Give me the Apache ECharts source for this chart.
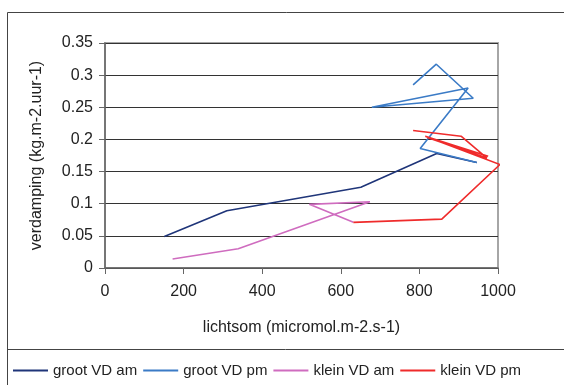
<!DOCTYPE html>
<html><head><meta charset="utf-8">
<script src="https://cdn.jsdelivr.net/npm/echarts@6/dist/echarts.min.js"></script>
<style>html,body{margin:0;padding:0;background:#fff}#c{width:564px;height:385px}</style>
</head><body><div id="c"></div>
<script>
const seriesNames = ['groot VD am', 'groot VD pm', 'klein VD am', 'klein VD pm'];
const grootAmX = [151, 310, 651, 844, 946];
const grootAmY = [0.049, 0.089, 0.1255, 0.178, 0.164];
const grootPmX = [784, 843, 937, 679, 924, 802, 946];
const grootPmY = [0.285, 0.317, 0.264, 0.250, 0.280, 0.186, 0.164];
const kleinAmX = [172, 339, 674, 520, 632];
const kleinAmY = [0.014, 0.030, 0.103, 0.099, 0.071];
const kleinPmX = [632, 857, 1005, 815, 975, 820, 972, 906, 784];
const kleinPmY = [0.071, 0.076, 0.161, 0.205, 0.174, 0.203, 0.171, 0.205, 0.214];
const xTicks = [0, 200, 400, 600, 800, 1000];
const yTicks = [0, 0.05, 0.1, 0.15, 0.2, 0.25, 0.3, 0.35];
const colors = ['#1f3579', '#3b7bc6', '#cf6cbf', '#ef2b2b'];

function pairs(xs, ys) { return xs.map((x, i) => [x, ys[i]]); }
const allData = [pairs(grootAmX, grootAmY), pairs(grootPmX, grootPmY), pairs(kleinAmX, kleinAmY), pairs(kleinPmX, kleinPmY)];

const font = 'Arial, "Liberation Sans", sans-serif';
const chart = echarts.init(document.getElementById('c'), null, {renderer: 'canvas'});
chart.setOption({
  animation: false,
  backgroundColor: '#fff',
  grid: {left: 105, right: 66, top: 43, bottom: 117, show: true, borderColor: '#a6a6a6', borderWidth: 2, backgroundColor: 'transparent'},
  xAxis: {
    type: 'value', min: xTicks[0], max: xTicks[xTicks.length - 1], interval: 200,
    name: 'lichtsom (micromol.m-2.s-1)', nameLocation: 'middle', nameGap: 52,
    nameTextStyle: {fontFamily: font, fontSize: 16, color: '#222'},
    axisLine: {lineStyle: {color: '#666', width: 1.5}},
    axisTick: {show: true, length: 6, inside: false, lineStyle: {color: '#666'}},
    axisLabel: {fontFamily: font, fontSize: 16, color: '#222', margin: 16, formatter: v => String(v)},
    splitLine: {show: false}
  },
  yAxis: {
    type: 'value', min: yTicks[0], max: yTicks[yTicks.length - 1], interval: 0.05,
    name: 'verdamping (kg.m-2.uur-1)', nameLocation: 'middle', nameGap: 60, nameRotate: 90,
    nameTextStyle: {fontFamily: font, fontSize: 16, color: '#222'},
    axisLine: {lineStyle: {color: '#666', width: 1.5}},
    axisTick: {show: true, length: 6, inside: false, lineStyle: {color: '#666'}},
    axisLabel: {fontFamily: font, fontSize: 16, color: '#222', margin: 12, formatter: v => String(Math.round(v * 100) / 100)},
    splitLine: {show: true, lineStyle: {color: '#333', width: 1}}
  },
  legend: {
    data: seriesNames, left: 8, top: 358, icon: 'rect', itemWidth: 35, itemHeight: 2, itemGap: 6,
    textStyle: {fontFamily: font, fontSize: 15, color: '#222'}
  },
  graphic: [
    {type: 'rect', shape: {x: 7.5, y: 12.5, width: 600, height: 400}, style: {fill: 'none', stroke: '#444', lineWidth: 1}, silent: true},
    {type: 'line', shape: {x1: 7, y1: 349.5, x2: 564, y2: 349.5}, style: {stroke: '#444', lineWidth: 1}, silent: true}
  ],
  series: allData.map((d, i) => ({
    name: seriesNames[i], type: 'line', data: d, showSymbol: false, symbol: 'none',
    color: colors[i], lineStyle: {width: 1.6, color: colors[i]}, z: 3
  }))
});
</script></body></html>
